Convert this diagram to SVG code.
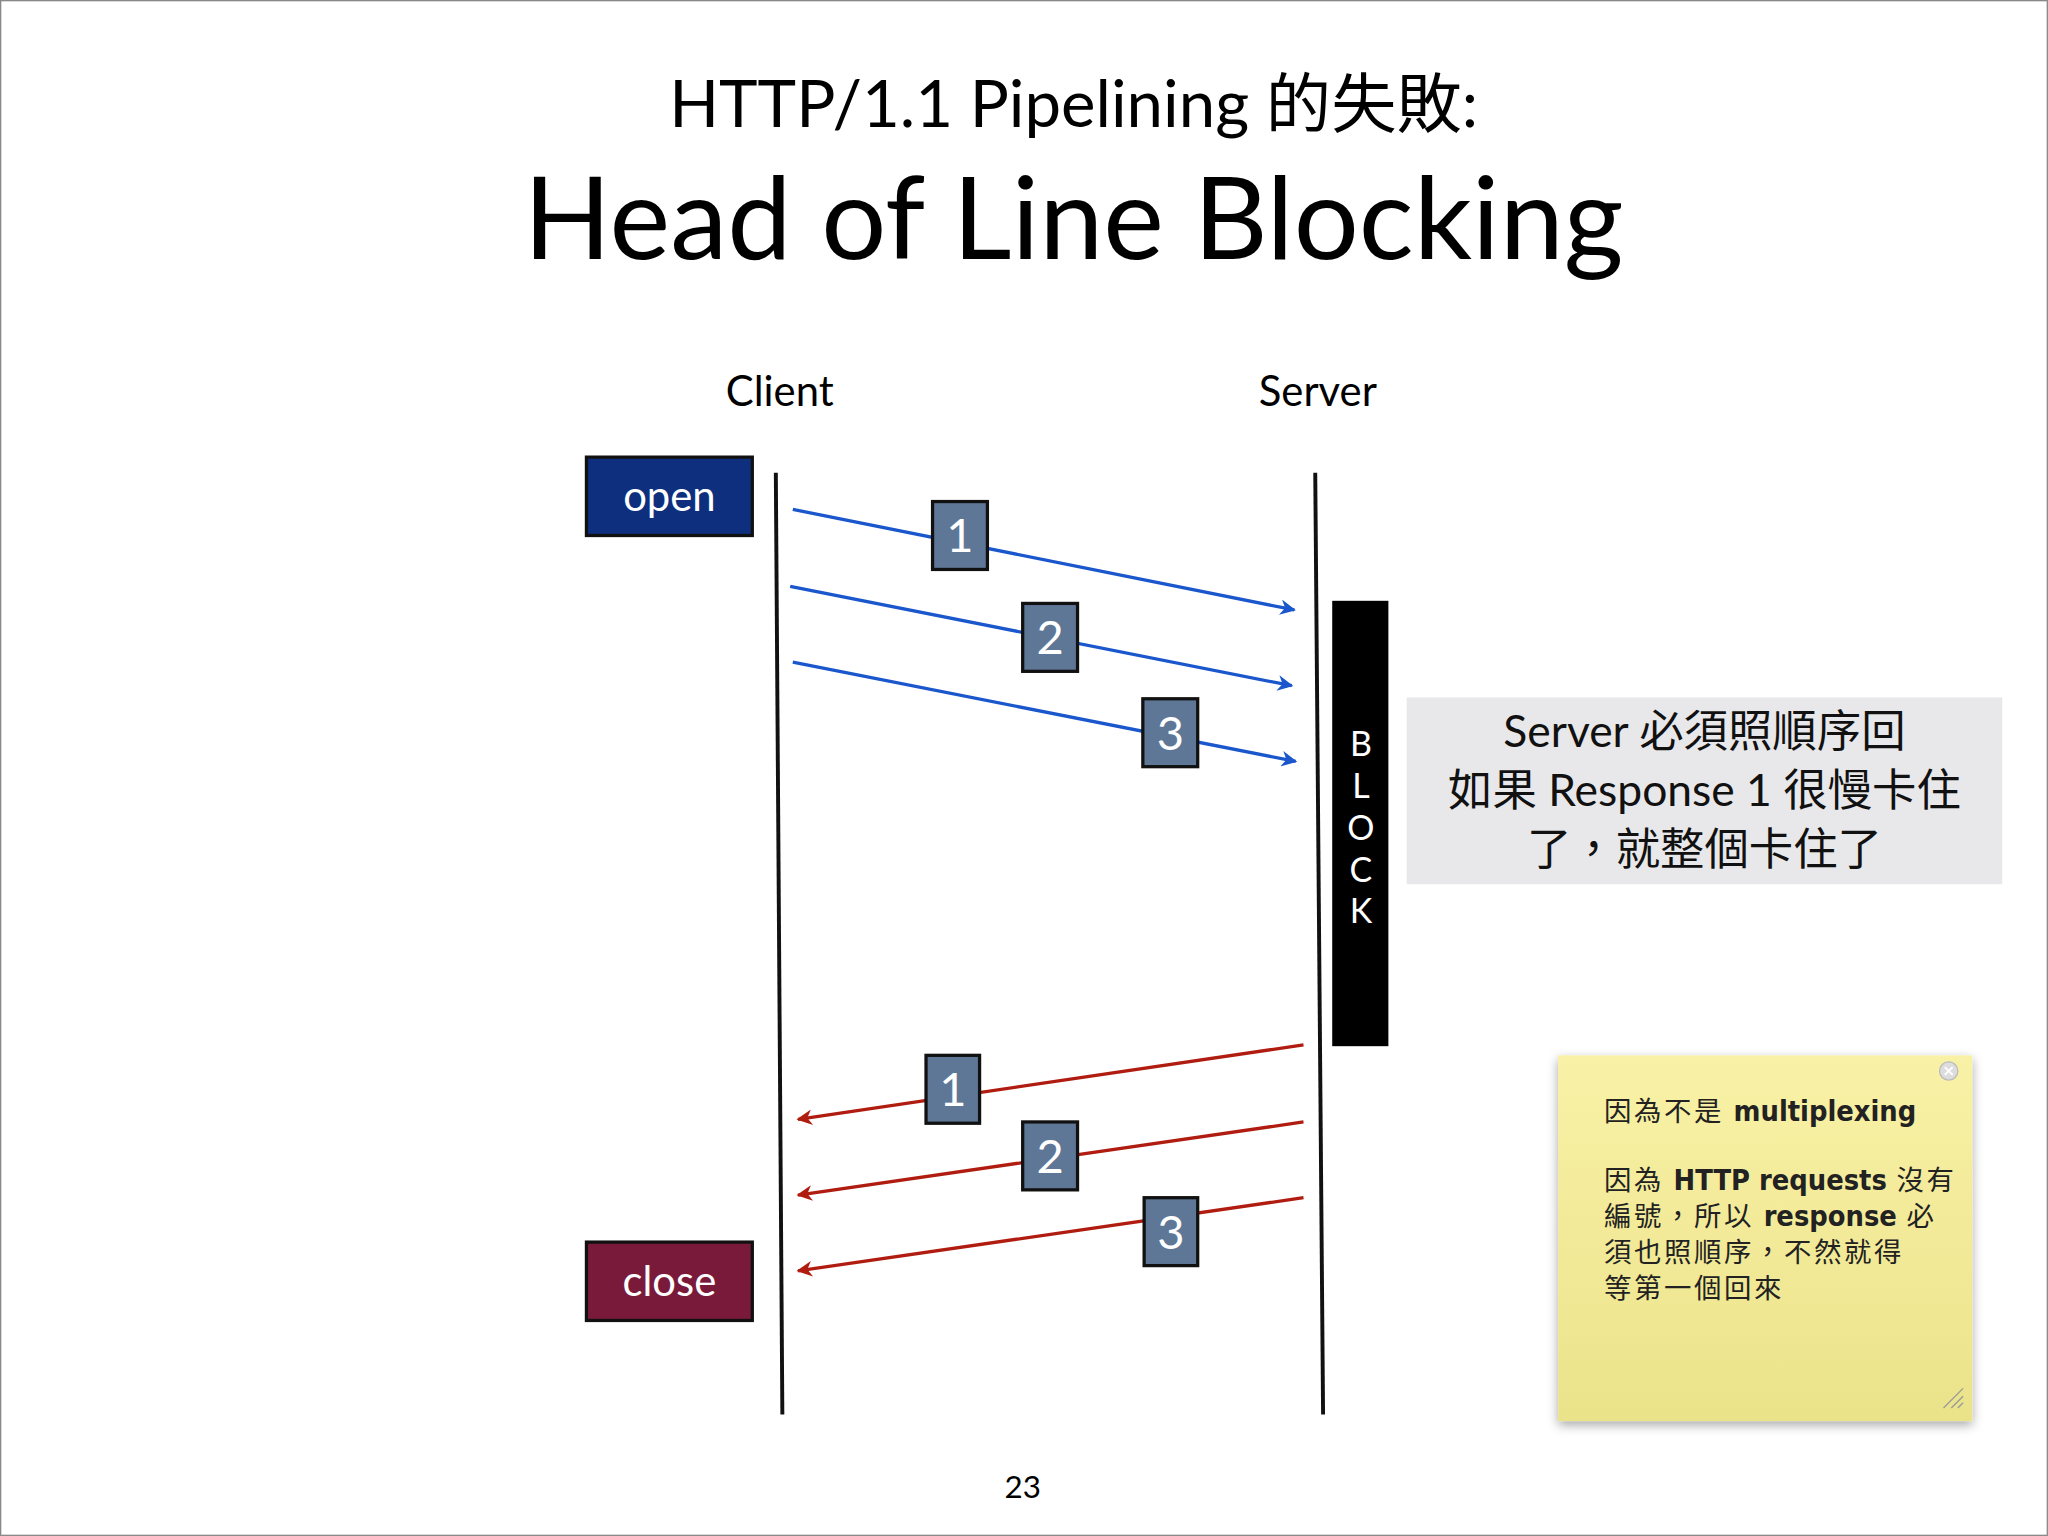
<svg xmlns="http://www.w3.org/2000/svg" width="2048" height="1536" viewBox="0 0 2048 1536">
<defs>
<marker id="ab" viewBox="0 0 10 10" refX="9" refY="5" markerWidth="14" markerHeight="12" orient="auto" markerUnits="userSpaceOnUse"><path d="M0,0 L10,5 L0,10 L3,5 z" fill="#1a56cc"/></marker>
<marker id="ar" viewBox="0 0 10 10" refX="9" refY="5" markerWidth="14" markerHeight="12" orient="auto" markerUnits="userSpaceOnUse"><path d="M0,0 L10,5 L0,10 L3,5 z" fill="#b01c10"/></marker>
<linearGradient id="sticky" x1="0" y1="0" x2="0" y2="1"><stop offset="0" stop-color="#f9f1a6"/><stop offset="1" stop-color="#ebe38a"/></linearGradient>
<filter id="sh" x="-10%" y="-10%" width="120%" height="120%"><feDropShadow dx="0" dy="3" stdDeviation="4" flood-color="#000" flood-opacity="0.35"/></filter>
</defs>
<style>
text{font-family:"Lato","Noto Sans CJK TC",sans-serif;}
.num rect{fill:#5f7796;stroke:#111;stroke-width:2.5}
.num text{fill:#fff;font-size:36px;text-anchor:middle}
.blue{stroke:#1a56cc;stroke-width:2.5;fill:none;marker-end:url(#ab)}
.red{stroke:#b01c10;stroke-width:2.5;fill:none;marker-end:url(#ar)}
.st{font-size:21px;fill:#222;letter-spacing:2px}
.stb{font-family:"DejaVu Sans Condensed","Noto Sans CJK TC",sans-serif;font-weight:bold;fill:#222;letter-spacing:0}
</style>
<rect width="2048" height="1536" fill="#fff"/>
<g transform="scale(1.3061)">
<rect x="0.5" y="0.5" width="1567" height="1175" fill="none" stroke="#888"/>
<g id="title">
<text x="822" y="97" font-size="50" text-anchor="middle">HTTP/1.1 Pipelining 的失敗:</text>
<text x="822" y="198" font-size="88" text-anchor="middle">Head of Line Blocking</text>
</g>
<g id="client"><text x="597" y="311" font-size="32" text-anchor="middle">Client</text><line x1="594" y1="362" x2="599" y2="1083" stroke="#111" stroke-width="3"/></g>
<g id="server"><text x="1009" y="311" font-size="32" text-anchor="middle">Server</text><line x1="1007" y1="362" x2="1013" y2="1083" stroke="#111" stroke-width="3"/></g>
<g id="open"><rect x="449" y="350" width="127" height="60" fill="#0d2f7e" stroke="#111" stroke-width="2.5"/><text x="512.5" y="391" font-size="32" fill="#fff" text-anchor="middle">open</text></g>
<g id="close"><rect x="449" y="951" width="127" height="60" fill="#7a1a3a" stroke="#111" stroke-width="2.5"/><text x="512.5" y="992" font-size="32" fill="#fff" text-anchor="middle">close</text></g>
<g id="connectors">
<line class="blue" x1="607" y1="390" x2="991" y2="467"/>
<line class="blue" x1="605" y1="449" x2="989" y2="525"/>
<line class="blue" x1="607" y1="507" x2="992" y2="583"/>
<line class="red" x1="998" y1="800" x2="611" y2="857"/>
<line class="red" x1="998" y1="859" x2="611" y2="915"/>
<line class="red" x1="998" y1="917" x2="611" y2="973"/>
</g>
<g id="req1" class="num"><rect x="714" y="384" width="42" height="52"/><text x="735" y="423">1</text></g>
<g id="req2" class="num"><rect x="783" y="462" width="42" height="52"/><text x="804" y="501">2</text></g>
<g id="req3" class="num"><rect x="875" y="535" width="42" height="52"/><text x="896" y="574">3</text></g>
<g id="res1" class="num"><rect x="709" y="808" width="41" height="52"/><text x="729.5" y="847">1</text></g>
<g id="res2" class="num"><rect x="783" y="859" width="42" height="52"/><text x="804" y="898">2</text></g>
<g id="res3" class="num"><rect x="876" y="917" width="41" height="52"/><text x="896.5" y="956">3</text></g>
<g id="block"><rect x="1020" y="460" width="43" height="341" fill="#000"/>
<g fill="#fff" font-size="26" text-anchor="middle"><text x="1042" y="579">B</text><text x="1042" y="611">L</text><text x="1042" y="643">O</text><text x="1042" y="675">C</text><text x="1042" y="707">K</text></g></g>
<g id="note"><rect x="1077" y="534" width="456" height="143" fill="#e8e8ea"/>
<g font-size="34" text-anchor="middle" fill="#111"><text x="1305" y="572">Server 必須照順序回</text><text x="1305" y="617">如果 Response 1 很慢卡住</text><text x="1305" y="662">了，就整個卡住了</text></g></g>
<g id="sticky"><rect x="1193" y="808" width="317" height="280" fill="url(#sticky)" filter="url(#sh)"/>
<circle cx="1492" cy="820" r="7" fill="#ddd" stroke="#bbb"/><path d="M1489,817 L1495,823 M1495,817 L1489,823" stroke="#fff" stroke-width="1.5"/>
<path d="M1488,1078 L1503,1063 M1494,1078 L1503,1069 M1499,1078 L1503,1074" stroke="#999" stroke-width="1"/>
<text class="st" x="1228" y="858">因為不是 <tspan class="stb" font-size="22">multiplexing</tspan></text>
<text class="st" x="1228" y="911">因為 <tspan class="stb" font-size="22">HTTP requests</tspan> 沒有</text>
<text class="st" x="1228" y="939">編號，所以 <tspan class="stb" font-size="22">response</tspan> 必</text>
<text class="st" x="1228" y="966">須也照順序，不然就得</text>
<text class="st" x="1228" y="994">等第一個回來</text>
</g>
<text id="page" x="783" y="1147" font-size="24" text-anchor="middle">23</text>
</g>
</svg>
